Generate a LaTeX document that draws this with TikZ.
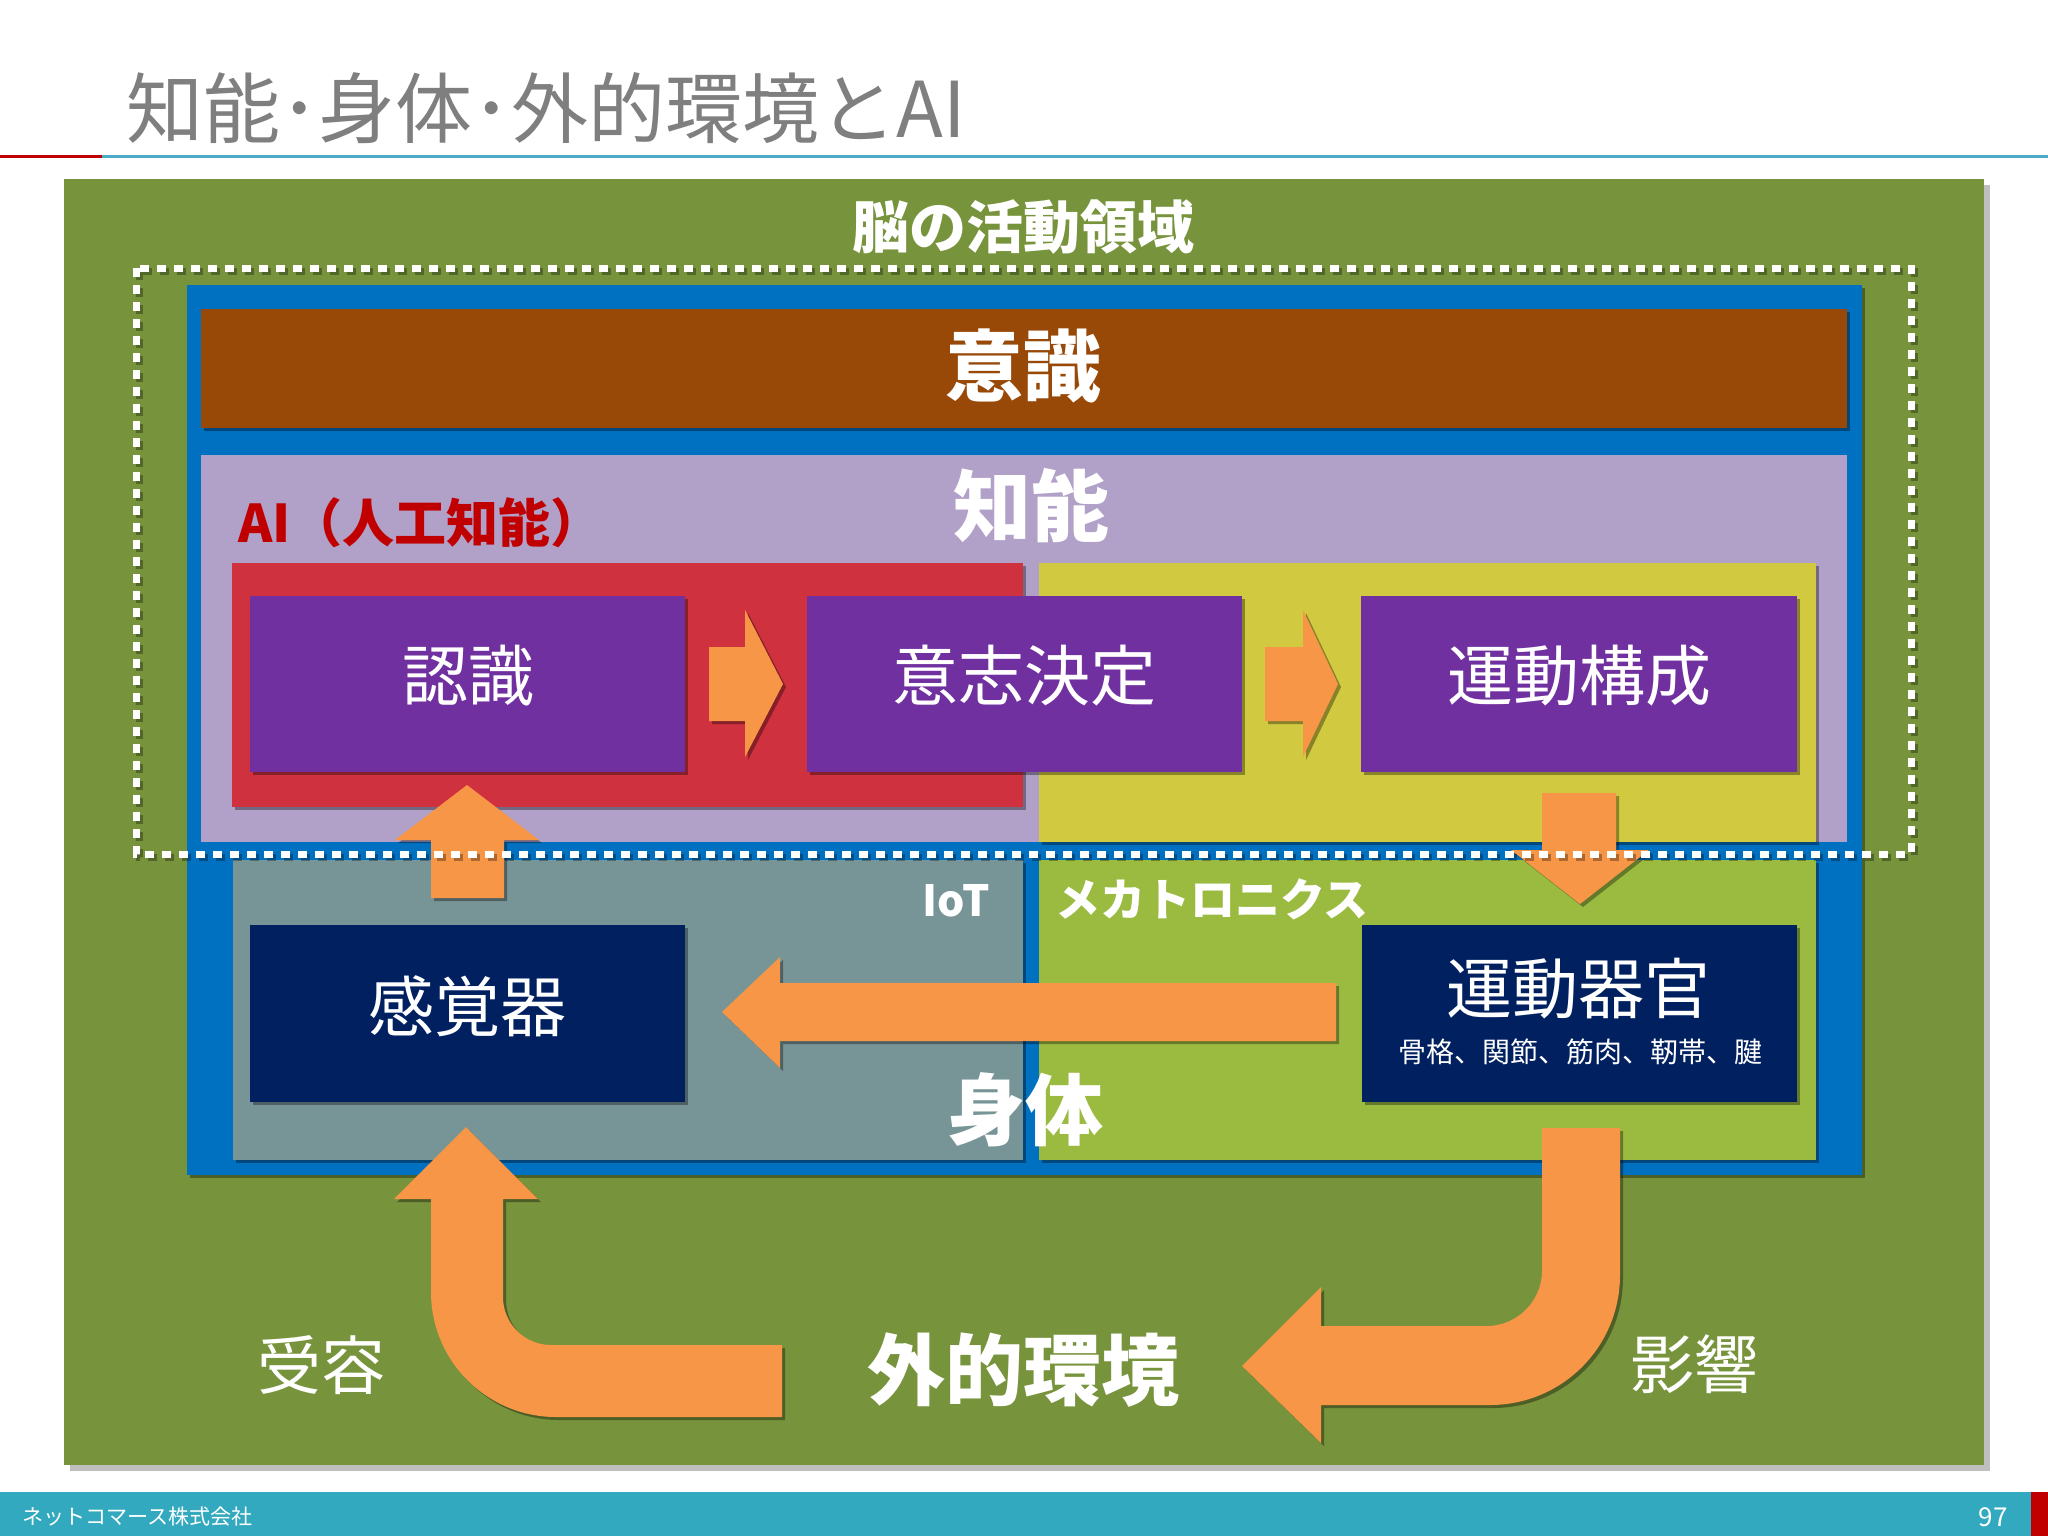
\documentclass[tikz,border=0pt]{standalone}
\usepackage{fontspec}
\setmainfont{Noto Sans CJK JP}
\usetikzlibrary{shadows}
\definecolor{bggreen}{HTML}{77933C}
\definecolor{bblue}{HTML}{0070C0}
\definecolor{bbrown}{HTML}{984807}
\definecolor{lav}{HTML}{B1A0C7}
\definecolor{aired}{HTML}{D0313F}
\definecolor{yel}{HTML}{D1C93F}
\definecolor{iotgray}{HTML}{779597}
\definecolor{lgreen}{HTML}{9BBB40}
\definecolor{purp}{HTML}{7030A0}
\definecolor{navy}{HTML}{002060}
\definecolor{orng}{HTML}{F79646}
\definecolor{titlegray}{HTML}{7F7F7F}
\definecolor{footteal}{HTML}{33A9BF}
\definecolor{darkred}{HTML}{C00000}
\definecolor{lineteal}{HTML}{4BACC6}
\begin{document}
\begin{tikzpicture}[x=1pt,y=-1pt,
  rect/.style={rectangle, inner sep=0pt, draw=none},
  sh/.style={drop shadow={shadow xshift=3pt, shadow yshift=-3pt, opacity=0.35, fill=black}},
  bigsh/.style={drop shadow={shadow xshift=6pt, shadow yshift=-6pt, opacity=0.25, fill=black}},
  boxtxt/.style={text=white, inner sep=0pt, font=\fontsize{66}{70}\selectfont},
  boldtxt/.style={text=white, inner sep=0pt, font=\bfseries\fontsize{78}{82}\selectfont},
  blockarrow/.style={fill=orng, sh},
  dotline/.style={line width=7pt, dash pattern=on 9pt off 8pt}
]
\useasboundingbox (0,0) rectangle (2048,1536);
\fill[white] (0,0) rectangle (2048,1536);

% title
\node[anchor=west, text=titlegray, inner sep=0pt, font=\fontsize{77}{80}\selectfont] (title) at (126,108) {知能･身体･外的環境とAI};
\fill[darkred] (0,155.5) rectangle (102,158.5);
\fill[lineteal] (102,155.5) rectangle (2048,158.5);

% footer
\fill[footteal] (0,1492) rectangle (2031,1536);
\fill[darkred] (2031,1492) rectangle (2048,1536);
\node[anchor=west, text=white, inner sep=0pt, font=\fontsize{21}{24}\selectfont] (company) at (22,1517) {ネットコマース株式会社};
\node[anchor=east, text=white, inner sep=0pt, font=\fontsize{26}{28}\selectfont] (page) at (2008,1517) {97};

% background regions
\node[rect, fill=bggreen, bigsh, minimum width=1920pt, minimum height=1286pt] (env) at (1024,822) {};
\node[rect, fill=bblue, sh, minimum width=1675pt, minimum height=890pt] (body) at (1024.5,730) {};
\node[rect, fill=bbrown, sh, minimum width=1646pt, minimum height=119pt] (consc) at (1024,368.5) {};
\node[rect, fill=lav, minimum width=1646pt, minimum height=387pt] (intel) at (1024,648.5) {};
\node[rect, fill=aired, sh, minimum width=791pt, minimum height=244pt] (ai) at (627.5,685) {};
\node[rect, fill=yel, sh, minimum width=777pt, minimum height=279pt] (yel) at (1427.5,702.5) {};
\node[rect, fill=iotgray, sh, minimum width=790pt, minimum height=300pt] (iot) at (628,1010) {};
\node[rect, fill=lgreen, sh, minimum width=777pt, minimum height=300pt] (mech) at (1427.5,1010) {};

% process boxes
\node[rect, fill=purp, sh, minimum width=435pt, minimum height=176pt] (ninshiki) at (467.5,684) {};
\node[rect, fill=purp, sh, minimum width=435pt, minimum height=176pt] (ishi) at (1024.5,684) {};
\node[rect, fill=purp, sh, minimum width=436pt, minimum height=176pt] (undo) at (1579,684) {};
\node[rect, fill=navy, sh, minimum width=435pt, minimum height=177pt] (kankaku) at (467.5,1013.5) {};
\node[rect, fill=navy, sh, minimum width=435pt, minimum height=177pt] (kikan) at (1579.5,1013.5) {};

% block arrows
\fill[blockarrow] (709,647) -- (745,647) -- (745,610) -- (783,684) -- (745,757) -- (745,721) -- (709,721) -- cycle;
\fill[blockarrow] (1265,647) -- (1303,647) -- (1303,610) -- (1338,684) -- (1303,757) -- (1303,721) -- (1265,721) -- cycle;
\fill[blockarrow] (1542,793) -- (1616,793) -- (1616,850) -- (1649,850) -- (1580,904) -- (1511,850) -- (1542,850) -- cycle;
\fill[blockarrow] (431,898) -- (431,840) -- (395,840) -- (467,785) -- (539,840) -- (504,840) -- (504,898) -- cycle;
\fill[blockarrow] (1336,983) -- (780,983) -- (780,957) -- (722,1012) -- (780,1068) -- (780,1041) -- (1336,1041) -- cycle;
% receive (U) arrow
\fill[blockarrow] (466,1127) -- (538,1199) -- (503,1199) -- (503,1297)
  .. controls (503,1323.5) and (524.5,1345) .. (551,1345)
  -- (782,1345) -- (782,1417) -- (556,1417)
  .. controls (487,1417) and (431,1361) .. (431,1292)
  -- (431,1199) -- (394,1199) -- cycle;
% influence (J) arrow
\fill[blockarrow] (1542,1128) -- (1620,1128) -- (1620,1275)
  .. controls (1620,1347) and (1562,1405) .. (1490,1405)
  -- (1321,1405) -- (1321,1443) -- (1242,1366) -- (1321,1287) -- (1321,1326)
  -- (1487,1326) .. controls (1517,1326) and (1542,1301) .. (1542,1271) -- cycle;

% dotted brain region (with a faint shadow)
\draw[black, opacity=0.3, dotline] (139,271) rectangle (1914,857);
\draw[white, dotline] (136,268) rectangle (1911,854);

% texts
\node[text=white, inner sep=0pt, font=\bfseries\fontsize{57}{60}\selectfont] (brainlbl) at (1023,227) {脳の活動領域};
\node[boldtxt] (conscl) at (1023,366) {意識};
\node[boldtxt] (intell) at (1031,506) {知能};
\node[anchor=west, text=darkred, inner sep=0pt, font=\bfseries\fontsize{52}{55}\selectfont] (ailbl) at (238,523) {AI（人工知能）};
\node[boxtxt] at (468,676) {認識};
\node[boxtxt] at (1024,676) {意志決定};
\node[boxtxt] at (1579,676) {運動構成};
\node[text=white, inner sep=0pt, font=\bfseries\fontsize{43}{46}\selectfont] (iotl) at (956,901) {IoT};
\node[anchor=west, text=white, inner sep=0pt, font=\bfseries\fontsize{45}{48}\selectfont] (mechl) at (1055,899) {メカトロニクス};
\node[boxtxt] at (467,1006) {感覚器};
\node[boxtxt] at (1578,989) {運動器官};
\node[text=white, inner sep=0pt, font=\fontsize{28}{30}\selectfont] at (1580,1052) {骨格、関節、筋肉、靭帯、腱};
\node[boldtxt] (bodyl) at (1025,1110) {身体};
\node[boldtxt] (envl) at (1023,1370) {外的環境};
\node[text=white, inner sep=0pt, font=\fontsize{64}{68}\selectfont] (recv) at (321,1365) {受容};
\node[text=white, inner sep=0pt, font=\fontsize{64}{68}\selectfont] (infl) at (1694,1364) {影響};
\end{tikzpicture}
\end{document}
